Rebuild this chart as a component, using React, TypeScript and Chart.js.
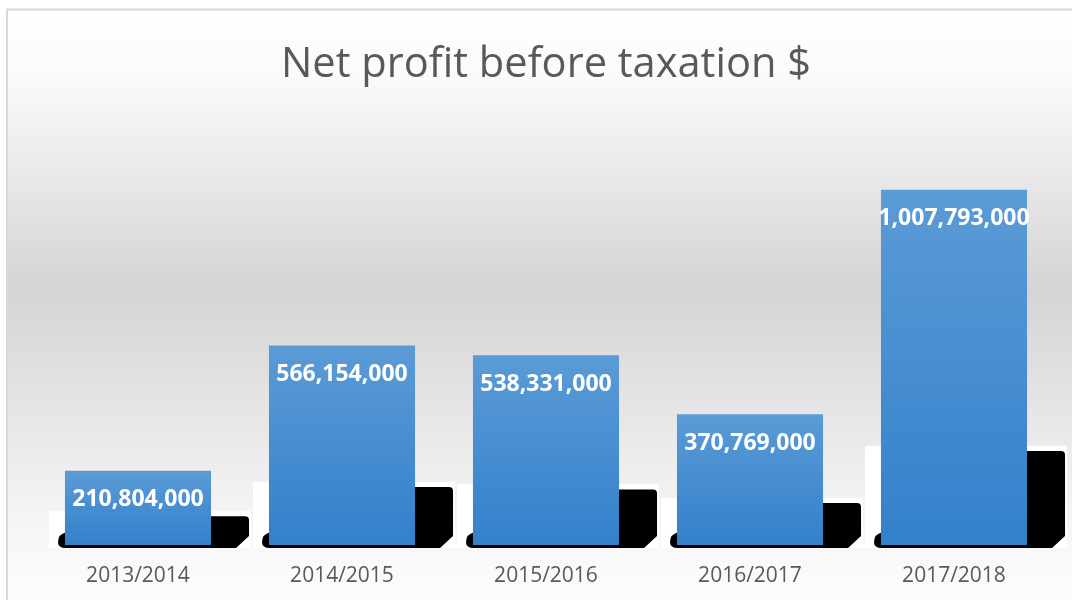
import React, { useEffect, useRef } from "react";
import { Chart, registerables } from "chart.js";

Chart.register(...registerables);

const TITLE = "Net profit before taxation $";
const categories = ["2013/2014", "2014/2015", "2015/2016", "2016/2017", "2017/2018"];
const profit = [210804000, 566154000, 538331000, 370769000, 1007793000];
const Y_MAX = 1200000000;

const fmt = (v: number) => v.toLocaleString("en-US");

const backgroundPlugin = {
  id: "bgFrame",
  beforeDraw(chart: any) {
    const { ctx, width, height } = chart;
    ctx.save();
    const g = ctx.createLinearGradient(0, 10, 0, height);
    g.addColorStop(0, "#ffffff");
    g.addColorStop(0.12, "#fafafa");
    g.addColorStop(0.47, "#d4d4d4");
    g.addColorStop(0.85, "#f4f4f4");
    g.addColorStop(1, "#fdfdfd");
    ctx.fillStyle = g;
    ctx.fillRect(7, 10, width, height);
    ctx.strokeStyle = "#d9d9d9";
    ctx.lineWidth = 2;
    ctx.strokeRect(7, 9.5, width + 20, height + 20);
    // title
    ctx.font = "42px 'Open Sans'";
    ctx.fillStyle = "#595959";
    ctx.textAlign = "center";
    ctx.textBaseline = "alphabetic";
    const w = ctx.measureText(TITLE).width;
    const sx = 530 / w;
    ctx.translate(546, 77);
    ctx.scale(sx, 1);
    ctx.fillText(TITLE, 0, 0);
    ctx.restore();
  },
};

const shadowPlugin = {
  id: "barShadow",
  beforeDatasetsDraw(chart: any) {
    const { ctx } = chart;
    const meta = chart.getDatasetMeta(0);
    const items = meta.data.map((el: any) => {
      const { x, y, base, width } = el.getProps(["x", "y", "base", "width"], true);
      const left = x - width / 2;
      const right = x + width / 2;
      const h = base - y;
      const sh = 0.232 * h + 11.6;
      return { left, right, bt: base - sh, bottom: base + 3 };
    });
    ctx.save();
    ctx.fillStyle = "#ffffff";
    items.forEach((it: any) => {
      ctx.fillRect(it.left - 16, it.bt - 5, it.right + 40 - (it.left - 16), it.bottom - (it.bt - 5));
    });
    ctx.fillStyle = "#000000";
    items.forEach((it: any) => {
      const L = it.left - 7;
      const R = it.right + 38;
      const { bt, bottom, left } = it;
      ctx.beginPath();
      ctx.moveTo(left + 2, bt);
      ctx.lineTo(R - 4, bt);
      ctx.quadraticCurveTo(R, bt, R, bt + 4);
      ctx.lineTo(R, bottom - 12);
      ctx.lineTo(R - 13, bottom);
      ctx.lineTo(L + 8, bottom);
      ctx.quadraticCurveTo(L, bottom, L, bottom - 6);
      ctx.quadraticCurveTo(L, bottom - 14, left + 2, bottom - 16);
      ctx.closePath();
      ctx.fill();
    });
    ctx.restore();
  },
};

const labelPlugin = {
  id: "barLabels",
  afterDatasetsDraw(chart: any) {
    const { ctx } = chart;
    const meta = chart.getDatasetMeta(0);
    ctx.save();
    ctx.font = "bold 23px 'Open Sans'";
    ctx.fillStyle = "#ffffff";
    ctx.textAlign = "center";
    ctx.textBaseline = "middle";
    meta.data.forEach((el: any, i: number) => {
      const { x, y } = el.getProps(["x", "y"], true);
      ctx.fillText(fmt(profit[i]), x, y + 29);
    });
    ctx.restore();
  },
};

export default function App() {
  const ref = useRef<HTMLCanvasElement>(null);
  useEffect(() => {
    if (!ref.current) return;
    const chart = new Chart(ref.current, {
      type: "bar",
      data: {
        labels: categories,
        datasets: [
          {
            data: profit,
            backgroundColor: (c: any) => {
              const ch = c.chart;
              if (!ch.chartArea || c.dataIndex === undefined) return "#4a90d2";
              const ys = ch.scales.y;
              const top = ys.getPixelForValue(profit[c.dataIndex]);
              const bot = ys.getPixelForValue(0);
              const g = ch.ctx.createLinearGradient(0, top, 0, bot);
              g.addColorStop(0, "#5b9bd6");
              g.addColorStop(1, "#3380cb");
              return g;
            },
            borderWidth: 0,
            categoryPercentage: 1,
            barPercentage: 0.716,
          },
        ],
      },
      options: {
        responsive: false,
        animation: false,
        layout: { padding: { top: 122, left: 36, right: 16, bottom: 0 } },
        plugins: { legend: { display: false }, tooltip: { enabled: false }, title: { display: false } },
        scales: {
          y: { display: false, min: 0, max: Y_MAX },
          x: {
            grid: { display: false, drawTicks: false },
            border: { display: false },
            ticks: { color: "#595959", font: { family: "'Open Sans'", size: 21 }, padding: 18 },
            afterFit: (s: any) => {
              s.height = 55;
            },
          },
        },
      },
      plugins: [backgroundPlugin, shadowPlugin, labelPlugin],
    } as any);
    return () => chart.destroy();
  }, []);
  return (
    <div style={{ position: "fixed", left: 0, top: 0, width: 1072, height: 600 }}>
      <canvas ref={ref} width={1072} height={600} style={{ width: 1072, height: 600, display: "block" }} />
    </div>
  );
}
